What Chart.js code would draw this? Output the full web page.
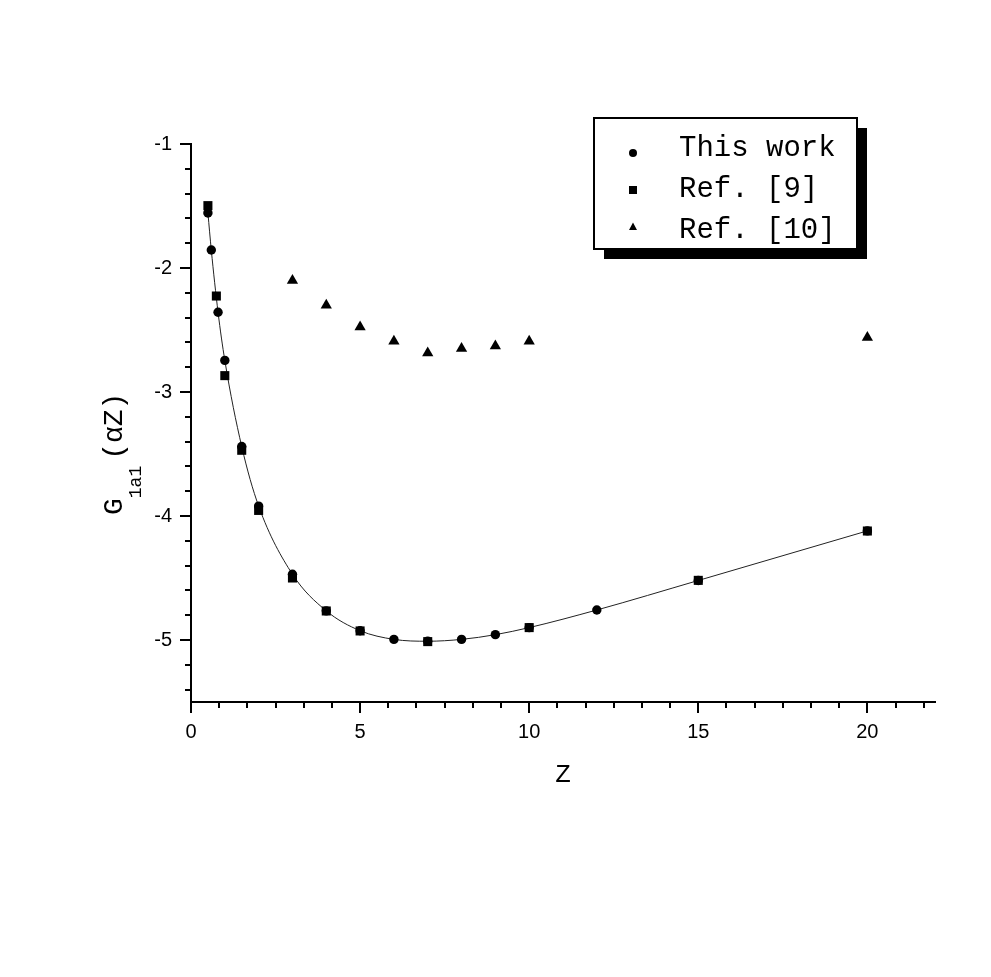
<!DOCTYPE html>
<html>
<head>
<meta charset="utf-8">
<script src="https://cdn.jsdelivr.net/npm/chart.js@4/dist/chart.umd.min.js"></script>
<style>
  html, body { margin: 0; padding: 0; background: #fff; }
  canvas { display: block; }
</style>
</head>
<body>
<canvas id="chart" width="991" height="977"></canvas>
<script>
// data
var thisWorkZ = [0.5, 0.6, 0.8, 1, 1.5, 2, 3, 4, 5, 6, 7, 8, 9, 10, 12, 15, 20];
var thisWorkG = [-1.556, -1.855, -2.357, -2.745, -3.44, -3.92, -4.47, -4.765, -4.925, -4.995, -5.01, -4.995, -4.957, -4.90, -4.758, -4.52, -4.12];

var ref9Z = [0.5, 0.75, 1, 1.5, 2, 3, 4, 5, 7, 10, 15, 20];
var ref9G = [-1.497, -2.226, -2.868, -3.47, -3.955, -4.50, -4.766, -4.927, -5.013, -4.90, -4.519, -4.121];

var ref10Z = [3, 4, 5, 6, 7, 8, 9, 10, 20];
var ref10G = [-2.10, -2.30, -2.476, -2.59, -2.686, -2.65, -2.63, -2.59, -2.56];

var xTicks = [0, 5, 10, 15, 20];
var yTicks = [-5, -4, -3, -2, -1];
var xMinorPerMajor = 6;   // minor divisions between labelled x ticks
var yMinorPerMajor = 5;

var MONO = '"Liberation Mono", "Courier New", monospace';
var SANS = '"Liberation Sans", Arial, sans-serif';

function pts(xs, ys) {
  return xs.map(function (x, i) { return { x: x, y: ys[i] }; });
}

// tick marks, axis titles and the shadowed legend box
var decor = {
  id: 'decor',
  afterDraw: function (chart) {
    var ctx = chart.ctx;
    var xs = chart.scales.x, ys = chart.scales.y;
    var area = chart.chartArea;
    ctx.save();
    ctx.strokeStyle = '#000';
    ctx.lineWidth = 2;

    // x ticks
    var xStep = (xTicks[1] - xTicks[0]) / xMinorPerMajor;
    for (var i = 0; xs.min + i * xStep <= xs.max + 1e-9; i++) {
      var px = Math.round(xs.getPixelForValue(xs.min + i * xStep));
      var len = (i % xMinorPerMajor === 0) ? 11 : 6;
      ctx.beginPath();
      ctx.moveTo(px, area.bottom);
      ctx.lineTo(px, area.bottom + len);
      ctx.stroke();
    }
    // y ticks
    var yStep = (yTicks[1] - yTicks[0]) / yMinorPerMajor;
    for (var j = 0; ys.max - j * yStep >= ys.min - 1e-9; j++) {
      var py = Math.round(ys.getPixelForValue(ys.max - j * yStep));
      var ylen = (j % yMinorPerMajor === 0) ? 11 : 6;
      ctx.beginPath();
      ctx.moveTo(area.left, py);
      ctx.lineTo(area.left - ylen, py);
      ctx.stroke();
    }

    // x title
    ctx.fillStyle = '#000';
    ctx.font = '26px ' + MONO;
    ctx.textAlign = 'center';
    ctx.textBaseline = 'alphabetic';
    ctx.fillText('Z', 563, 782);

    // y title: G_1a1 (αZ), rotated
    ctx.save();
    ctx.translate(122, 515);
    ctx.rotate(-Math.PI / 2);
    ctx.textAlign = 'left';
    ctx.font = '28px ' + MONO;
    ctx.fillText('G', 0, 0);
    var off = ctx.measureText('G').width;
    ctx.font = '18px ' + MONO;
    ctx.fillText('1a1', off, 19);
    off += ctx.measureText('1a1').width + 6;
    ctx.font = '28px ' + MONO;
    ctx.fillText('(αZ)', off, 0);
    ctx.restore();

    // legend box with drop shadow
    var bx = 594, by = 118, bw = 263, bh = 131;
    ctx.fillStyle = '#000';
    ctx.fillRect(bx + 10, by + 10, bw, bh);
    ctx.fillStyle = '#fff';
    ctx.fillRect(bx, by, bw, bh);
    ctx.strokeRect(bx, by, bw, bh);

    var rows = [
      { label: chart.data.datasets[0].label, shape: 'circle', my: 153, ty: 156 },
      { label: chart.data.datasets[1].label, shape: 'rect', my: 190, ty: 197 },
      { label: chart.data.datasets[2].label, shape: 'triangle', my: 227, ty: 238 }
    ];
    ctx.fillStyle = '#000';
    rows.forEach(function (r) {
      var mx = 633;
      ctx.beginPath();
      if (r.shape === 'circle') {
        ctx.arc(mx, r.my, 4, 0, Math.PI * 2);
      } else if (r.shape === 'rect') {
        ctx.rect(mx - 4, r.my - 4, 8, 8);
      } else {
        ctx.moveTo(mx, r.my - 4.5);
        ctx.lineTo(mx + 4, r.my + 3);
        ctx.lineTo(mx - 4, r.my + 3);
        ctx.closePath();
      }
      ctx.fill();
      ctx.font = '29px ' + MONO;
      ctx.textAlign = 'left';
      ctx.fillText(r.label, 679, r.ty);
    });
    ctx.restore();
  }
};

var ctx = document.getElementById('chart').getContext('2d');
var chart = new Chart(ctx, {
  type: 'scatter',
  data: {
    datasets: [
      {
        label: 'This work',
        data: pts(thisWorkZ, thisWorkG),
        showLine: true,
        borderColor: '#222',
        borderWidth: 1,
        cubicInterpolationMode: 'monotone',
        pointStyle: 'circle',
        pointRadius: 4.7,
        pointBackgroundColor: '#000',
        pointBorderWidth: 0,
        order: 2
      },
      {
        label: 'Ref. [9]',
        data: pts(ref9Z, ref9G),
        showLine: false,
        pointStyle: 'rect',
        pointRadius: 6.4,
        pointBackgroundColor: '#000',
        pointBorderWidth: 0,
        order: 1
      },
      {
        label: 'Ref. [10]',
        data: pts(ref10Z, ref10G),
        showLine: false,
        pointStyle: 'triangle',
        pointRadius: 6.5,
        pointBackgroundColor: '#000',
        pointBorderWidth: 0,
        order: 1
      }
    ]
  },
  options: {
    responsive: false,
    animation: false,
    devicePixelRatio: 1,
    layout: { padding: { left: 0, right: 56, top: 144, bottom: 175 } },
    plugins: {
      legend: { display: false },
      tooltip: { enabled: false }
    },
    scales: {
      x: {
        type: 'linear',
        position: 'bottom',
        min: 0,
        max: 22,
        grid: { display: false, drawTicks: false },
        border: { display: true, color: '#000', width: 2 },
        ticks: {
          color: '#000',
          font: { family: SANS, size: 20 },
          padding: 18,
          maxRotation: 0,
          autoSkip: false
        },
        afterBuildTicks: function (scale) {
          scale.ticks = xTicks.map(function (v) { return { value: v }; });
        },
        afterFit: function (scale) { scale.height = 100; }
      },
      y: {
        type: 'linear',
        min: -5.5,
        max: -1,
        grid: { display: false, drawTicks: false },
        border: { display: true, color: '#000', width: 2 },
        ticks: {
          color: '#000',
          font: { family: SANS, size: 20 },
          padding: 19,
          autoSkip: false
        },
        afterBuildTicks: function (scale) {
          scale.ticks = yTicks.map(function (v) { return { value: v }; });
        },
        afterFit: function (scale) { scale.width = 191; }
      }
    }
  },
  plugins: [decor]
});
</script>
</body>
</html>
